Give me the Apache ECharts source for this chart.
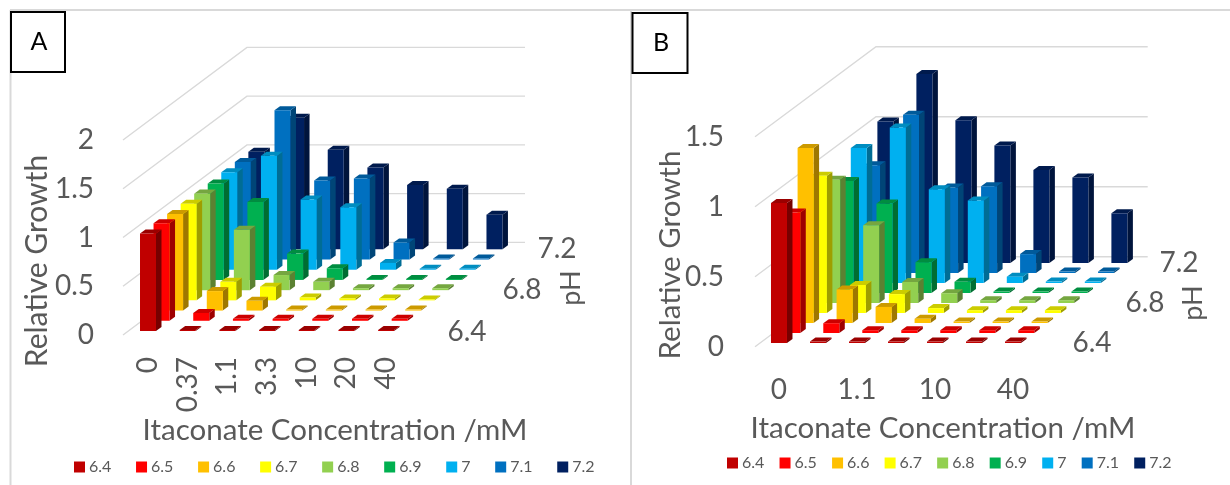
<!DOCTYPE html>
<html>
<head>
<meta charset="utf-8">
<script src="https://cdn.jsdelivr.net/npm/echarts@6/dist/echarts.min.js"></script>
<style>html,body{margin:0;padding:0;background:#fff}#c{width:1230px;height:485px}</style>
</head>
<body>
<div id="c"></div>
<script>
// ---- data ----
const concentrations = ['0','0.37','1.1','3.3','10','20','40'];
const pHLevels = ['6.4','6.5','6.6','6.7','6.8','6.9','7','7.1','7.2'];
const growthTicksA = [0,0.5,1,1.5,2];
const growthTicksB = [0,0.5,1,1.5];

const a64 = [1.00,0.01,0.01,0.01,0.01,0.01,0.01];
const a65 = [1.00,0.08,0.02,0.02,0.02,0.02,0.02];
const a66 = [0.99,0.20,0.10,0.01,0.01,0.01,0.01];
const a67 = [0.99,0.19,0.14,0.03,0.02,0.02,0.01];
const a68 = [0.99,0.62,0.155,0.085,0.02,0.02,0.02];
const a69 = [0.99,0.80,0.27,0.12,0.01,0.01,0.01];
const a70 = [1.00,1.17,0.72,0.64,0.07,0.01,0.01];
const a71 = [1.00,1.53,0.81,0.83,0.175,0.01,0.01];
const a72 = [1.00,1.35,1.02,0.84,0.66,0.62,0.355];

const b64 = [1.00,0.01,0.01,0.01,0.01,0.01,0.01];
const b65 = [0.86,0.07,0.02,0.02,0.02,0.02,0.02];
const b66 = [1.25,0.24,0.115,0.03,0.01,0.01,0.01];
const b67 = [0.98,0.20,0.135,0.035,0.02,0.02,0.02];
const b68 = [0.88,0.555,0.15,0.07,0.02,0.02,0.02];
const b69 = [0.80,0.64,0.22,0.08,0.01,0.01,0.01];
const b70 = [0.965,1.11,0.67,0.59,0.045,0.01,0.01];
const b71 = [0.77,1.13,0.61,0.62,0.135,0.01,0.01];
const b72 = [1.01,1.35,1.02,0.84,0.665,0.61,0.355];

const rowsA = [a64,a65,a66,a67,a68,a69,a70,a71,a72];
const rowsB = [b64,b65,b66,b67,b68,b69,b70,b71,b72];

// ---- styles & layout ----
const colors = ['#C00000','#FF0000','#FFC000','#FFFF00','#92D050','#00B050','#00B0F0','#0070C0','#002060'];
const FONT = 'Lato';
const TEXT = '#595959';
const GRID = '#D9D9D9';

const panelA = {
  left:123, right:525, bottom:335, top:140, xmin:-0.63, xmax:9.5, ymax:2, step:39.7, unit:97.4,
  rowDx:13.55, rowDy:10.2, base:4, cornerDx:124, cornerDy:92.5,
  labelMargin:22, rotate:90, labelValues:[0,1,2,3,4,5,6], yMargin:29
};
const panelB = {
  left:755, right:1147.7, bottom:346.7, top:136.7, xmin:-0.615, xmax:9.454, ymax:1.5, step:39, unit:140,
  rowDx:13.3, rowDy:10, base:3.7, cornerDx:121, cornerDy:90,
  labelMargin:29, rotate:0, labelValues:[0,2,4,6], yMargin:31
};
const BAR_W = 16, SIDE_DX = 5.5, SIDE_DY = 4;

function shade(col, f){
  const c = echarts.color.parse(col);
  return 'rgb(' + Math.round(c[0]*f) + ',' + Math.round(c[1]*f) + ',' + Math.round(c[2]*f) + ')';
}
function barRenderer(p){
  return function(params, api){
    const i = api.value(0), j = api.value(1), v = api.value(2);
    const bw = BAR_W/p.step, dx = SIDE_DX/p.step, dy = SIDE_DY/p.unit;
    const c = i + j*p.rowDx/p.step;
    const lo = (p.base + j*p.rowDy)/p.unit, hi = lo + v;
    const l = c - bw/2, r = c + bw/2;
    const P = (x,y)=>api.coord([x,y]);
    const col = api.visual('color');
    return {type:'group', children:[
      {type:'polygon', shape:{points:[P(r,lo),P(r+dx,lo+dy),P(r+dx,hi+dy),P(r,hi)]}, style:{fill:shade(col,0.62)}},
      {type:'polygon', shape:{points:[P(l,hi),P(r,hi),P(r+dx,hi+dy),P(l+dx,hi+dy)]}, style:{fill:shade(col,0.8)}},
      {type:'polygon', shape:{points:[P(l,lo),P(r,lo),P(r,hi),P(l,hi)]}, style:{fill:col}}
    ]};
  };
}
function wallRenderer(p){
  return function(params, api){
    const v = api.value(0);
    const Xb = p.xmin + p.cornerDx/p.step, Yb = v + p.cornerDy/p.unit;
    return {type:'polyline', shape:{points:[api.coord([p.xmin,v]),api.coord([Xb,Yb]),api.coord([p.xmax,Yb])]},
      style:{stroke:GRID, lineWidth:1.4, fill:null}, silent:true};
  };
}
function panelSeries(rows, ticks, p, idx){
  const out = [{type:'custom', name:'walls'+idx, coordinateSystem:'cartesian2d', xAxisIndex:idx, yAxisIndex:idx,
    renderItem:wallRenderer(p), data:ticks.map(t=>[t]), silent:true, tooltip:{show:false}, animation:false}];
  for(let j=rows.length-1;j>=0;j--){
    out.push({type:'custom', name:pHLevels[j], coordinateSystem:'cartesian2d', xAxisIndex:idx, yAxisIndex:idx,
      itemStyle:{color:colors[j]}, encode:{x:0,y:2}, renderItem:barRenderer(p),
      data:rows[j].map((v,i)=>[i,j,v]), animation:false});
  }
  return out;
}
function gridOf(p){ return {left:p.left, width:p.right-p.left, top:p.top, height:p.bottom-p.top, containLabel:false}; }
function xAxisOf(p, idx){
  return {type:'value', gridIndex:idx, min:p.xmin, max:p.xmax, axisLine:{show:false}, axisTick:{show:false}, splitLine:{show:false},
    axisLabel:{customValues:p.labelValues, rotate:p.rotate, margin:p.labelMargin, color:TEXT, fontFamily:FONT, fontSize:28,
      formatter:v=>concentrations[v]}};
}
function yAxisOf(p, idx){
  return {type:'value', gridIndex:idx, min:0, max:p.ymax, interval:0.5, axisLine:{show:false}, axisTick:{show:false}, splitLine:{show:false},
    axisLabel:{margin:p.yMargin, color:TEXT, fontFamily:FONT, fontSize:28, padding:[4,0,0,0]}};
}
function txt(x,y,t,size,rot,color){
  return {type:'text', x:x, y:y, rotation:rot?Math.PI/2:0, z:10,
    style:{text:t, fontFamily:FONT, fontSize:size, fill:color||TEXT, align:'center', verticalAlign:'middle'}};
}
function box(x,y,w,h){ return {type:'rect', z:9, shape:{x:x,y:y,width:w,height:h}, style:{fill:'#fff',stroke:'#000',lineWidth:2}}; }
function line(x1,y1,x2,y2){ return {type:'line', z:0, shape:{x1,y1,x2,y2}, style:{stroke:GRID,lineWidth:2}}; }

const legendBase = {data:pHLevels, orient:'horizontal', icon:'rect', itemWidth:11, itemHeight:11, padding:0,
  textStyle:{color:TEXT, fontFamily:FONT, fontSize:16, padding:[0,0,0,-1]}, selectedMode:false};

const option = {
  animation:false,
  grid:[gridOf(panelA), gridOf(panelB)],
  xAxis:[xAxisOf(panelA,0), xAxisOf(panelB,1)],
  yAxis:[yAxisOf(panelA,0), yAxisOf(panelB,1)],
  legend:[
    Object.assign({}, legendBase, {left:74, top:459, itemGap:24.7}),
    Object.assign({}, legendBase, {left:727, top:455, itemGap:15.2})
  ],
  series: panelSeries(rowsA, growthTicksA, panelA, 0).concat(panelSeries(rowsB, growthTicksB, panelB, 1)),
  graphic:[
    line(10,10,1230,10), line(10.5,10,10.5,485), line(631,10,631,485),
    box(11,12,54,60), box(632.5,13,55,60),
    txt(39,42,'A',25,false,'#000'), txt(661,43,'B',25,false,'#000'),
    txt(37,261,'Relative Growth',30,true), txt(670,255,'Relative Growth',29.5,true),
    txt(335,430,'Itaconate Concentration /mM',29.5), txt(943,428,'Itaconate Concentration /mM',29.5),
    txt(467,332,'6.4',28), txt(522,290,'6.8',28), txt(557,249,'7.2',28),
    txt(1092,343,'6.4',28), txt(1145,303,'6.8',28), txt(1179,263,'7.2',28),
    txt(571,288,'pH',27,true), txt(1193,303,'pH',27,true)
  ]
};
echarts.init(document.getElementById('c'),null,{renderer:'canvas'}).setOption(option);
</script>
</body>
</html>
